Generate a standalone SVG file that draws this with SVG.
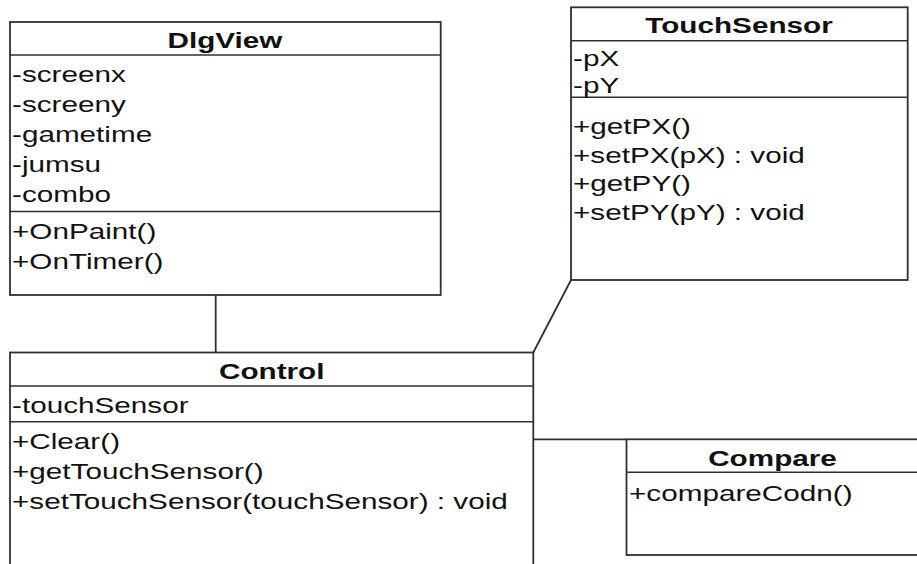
<svg xmlns="http://www.w3.org/2000/svg" width="917" height="564" viewBox="0 0 917 564">
<style>
  .box { fill: #ffffff; stroke: #303030; stroke-width: 1.8; }
  .div { stroke: #303030; stroke-width: 1.6; fill: none; }
  .conn { stroke: #303030; stroke-width: 1.8; fill: none; }
  .t { font-family: "Liberation Sans", Arial, sans-serif; font-size: 22.5px; fill: #111111; }
  .h { font-family: "Liberation Sans", Arial, sans-serif; font-size: 22.5px; font-weight: bold; fill: #111111; text-anchor: middle; }
</style>
<rect width="917" height="564" fill="#ffffff"/>

<g id="connectors">
  <line class="conn" x1="215.7" y1="295" x2="215.7" y2="352.5"/>
  <line class="conn" x1="571" y1="280" x2="533.3" y2="352.5"/>
  <line class="conn" x1="533.3" y1="439.3" x2="626.5" y2="439.3"/>
</g>

<g id="DlgView">
  <rect class="box" x="10" y="22" width="430.7" height="273"/>
  <line class="div" x1="10" y1="55" x2="440.7" y2="55"/>
  <line class="div" x1="10" y1="211.5" x2="440.7" y2="211.5"/>
  <text class="h" transform="translate(225,48.3) scale(1.32,1)">DlgView</text>
  <text class="t" transform="translate(12,81.7) scale(1.32,1)">-screenx</text>
  <text class="t" transform="translate(12,111.7) scale(1.32,1)">-screeny</text>
  <text class="t" transform="translate(12,141.7) scale(1.32,1)">-gametime</text>
  <text class="t" transform="translate(12,171.7) scale(1.32,1)">-jumsu</text>
  <text class="t" transform="translate(12,201.7) scale(1.32,1)">-combo</text>
  <text class="t" transform="translate(12,238.5) scale(1.32,1)">+OnPaint()</text>
  <text class="t" transform="translate(12,268.5) scale(1.32,1)">+OnTimer()</text>
</g>

<g id="TouchSensor">
  <rect class="box" x="571" y="7.3" width="336.7" height="272.7"/>
  <line class="div" x1="571" y1="40.7" x2="907.7" y2="40.7"/>
  <line class="div" x1="571" y1="97.3" x2="907.7" y2="97.3"/>
  <text class="h" transform="translate(739,33.3) scale(1.32,1)">TouchSensor</text>
  <text class="t" transform="translate(573,66) scale(1.32,1)">-pX</text>
  <text class="t" transform="translate(573,92.5) scale(1.32,1)">-pY</text>
  <text class="t" transform="translate(573,133.5) scale(1.32,1)">+getPX()</text>
  <text class="t" transform="translate(573,162.5) scale(1.32,1)">+setPX(pX) : void</text>
  <text class="t" transform="translate(573,191) scale(1.32,1)">+getPY()</text>
  <text class="t" transform="translate(573,220) scale(1.32,1)">+setPY(pY) : void</text>
</g>

<g id="Control">
  <rect class="box" x="10" y="352.5" width="523.3" height="230"/>
  <line class="div" x1="10" y1="386" x2="533.3" y2="386"/>
  <line class="div" x1="10" y1="421.7" x2="533.3" y2="421.7"/>
  <text class="h" transform="translate(271.7,378.5) scale(1.32,1)">Control</text>
  <text class="t" transform="translate(12,413) scale(1.32,1)">-touchSensor</text>
  <text class="t" transform="translate(12,448.5) scale(1.32,1)">+Clear()</text>
  <text class="t" transform="translate(12,478.5) scale(1.32,1)">+getTouchSensor()</text>
  <text class="t" transform="translate(12,508.5) scale(1.32,1)">+setTouchSensor(touchSensor) : void</text>
</g>

<g id="Compare">
  <rect class="box" x="626.5" y="439.3" width="294" height="115.7"/>
  <line class="div" x1="626.5" y1="472.3" x2="920" y2="472.3"/>
  <text class="h" transform="translate(772.5,465.5) scale(1.32,1)">Compare</text>
  <text class="t" transform="translate(629,501) scale(1.32,1)">+compareCodn()</text>
</g>
</svg>
